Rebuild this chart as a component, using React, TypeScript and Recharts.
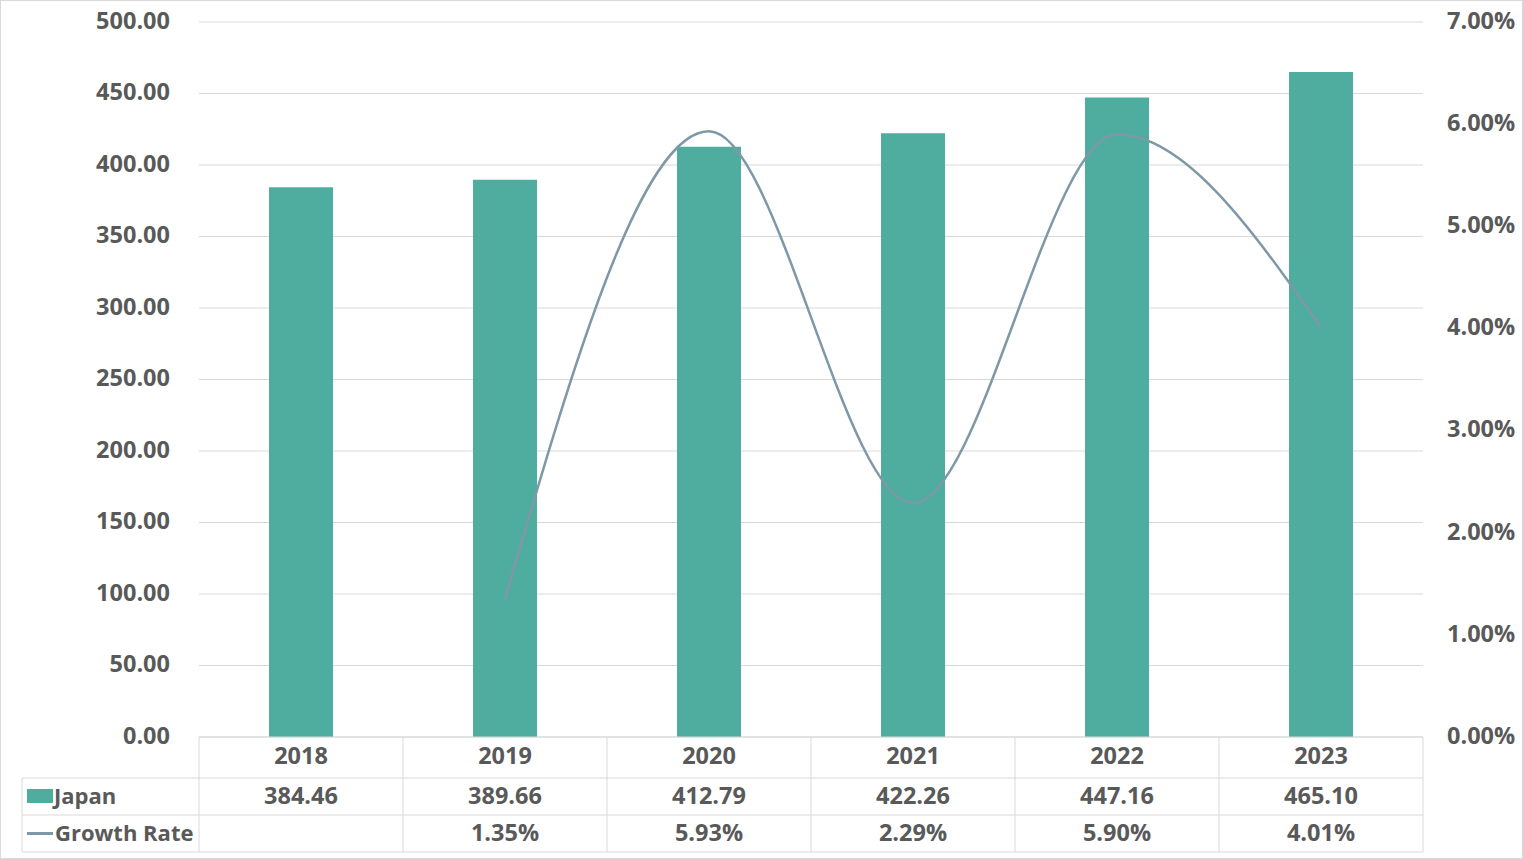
import {
  Bar,
  CartesianGrid,
  ComposedChart,
  Line,
  XAxis,
  YAxis,
} from "recharts";

const years = ["2018", "2019", "2020", "2021", "2022", "2023"];
const japan = [384.46, 389.66, 412.79, 422.26, 447.16, 465.1];
const growth: (number | null)[] = [null, 1.35, 5.93, 2.29, 5.9, 4.01];
const leftTicks = [0, 50, 100, 150, 200, 250, 300, 350, 400, 450, 500];
const rightTicks = [0, 1, 2, 3, 4, 5, 6, 7];

const data = years.map((year, i) => ({
  year,
  japan: japan[i],
  growth: growth[i],
}));

const BAR = "#4FAD9F";
const LINE = "#7F98A8";
const TEXT = "#595959";
const BORDER = "#d9d9d9";
const FONT = "'Open Sans', sans-serif";
const SIZE = 23.5;
const CELL = 204;
const TABLE_LEFT = 22;

function TableTick(props: any) {
  const { x, y, index } = props;
  const half = CELL / 2;
  const r1 = y + 41;
  const r2 = y + 78;
  const r3 = y + 115;
  const text = {
    fill: TEXT,
    fontFamily: FONT,
    fontWeight: 700,
    fontSize: SIZE,
    dominantBaseline: "central" as const,
  };
  const label = { ...text, fontSize: 22 };
  const g = growth[index];
  return (
    <g>
      {index === 0 && (
        <g>
          <line x1={x - half} x2={x - half} y1={y} y2={r3} stroke={BORDER} />
          <line x1={TABLE_LEFT} x2={TABLE_LEFT} y1={r1} y2={r3} stroke={BORDER} />
          {[r1, r2, r3].map((ry) => (
            <line key={ry} x1={TABLE_LEFT} x2={x - half} y1={ry} y2={ry} stroke={BORDER} />
          ))}
          <rect x={27} y={r1 + 11} width={26} height={14} fill={BAR} />
          <text x={54} y={(r1 + r2) / 2 - 2} textAnchor="start" {...label}>
            Japan
          </text>
          <line x1={27} x2={53} y1={(r2 + r3) / 2} y2={(r2 + r3) / 2} stroke={LINE} strokeWidth={3} />
          <text x={55} y={(r2 + r3) / 2 - 2} textAnchor="start" {...label}>
            Growth Rate
          </text>
        </g>
      )}
      <line x1={x + half} x2={x + half} y1={y} y2={r3} stroke={BORDER} />
      {[r1, r2, r3].map((ry) => (
        <line key={ry} x1={x - half} x2={x + half} y1={ry} y2={ry} stroke={BORDER} />
      ))}
      <text x={x} y={y + 18} textAnchor="middle" {...text}>
        {years[index]}
      </text>
      <text x={x} y={(r1 + r2) / 2 - 2} textAnchor="middle" {...text}>
        {japan[index].toFixed(2)}
      </text>
      {g != null && (
        <text x={x} y={(r2 + r3) / 2 - 2} textAnchor="middle" {...text}>
          {g.toFixed(2) + "%"}
        </text>
      )}
    </g>
  );
}

const axisTick = {
  fill: TEXT,
  fontFamily: FONT,
  fontWeight: 700,
  fontSize: SIZE,
  dy: -1.5,
};

export default function App() {
  return (
    <div
      style={{
        position: "absolute",
        left: 0,
        top: 0,
        width: 1523,
        height: 859,
        boxSizing: "border-box",
        border: `1px solid ${BORDER}`,
        background: "#fff",
      }}
    >
      <div style={{ position: "absolute", left: -1, top: -1 }}>
        <ComposedChart
          width={1523}
          height={859}
          data={data}
          margin={{ top: 22, right: 0, bottom: 0, left: 0 }}
        >
          <CartesianGrid vertical={false} stroke={BORDER} yAxisId="left" />
          <XAxis
            dataKey="year"
            height={122}
            tickLine={false}
            tickSize={0}
            tickMargin={0}
            axisLine={{ stroke: BORDER }}
            interval={0}
            tick={<TableTick />}
          />
          <YAxis
            yAxisId="left"
            width={199}
            domain={[0, 500]}
            ticks={leftTicks}
            tickFormatter={(v) => Number(v).toFixed(2)}
            axisLine={false}
            tickLine={false}
            tickSize={0}
            tickMargin={29}
            tick={axisTick}
          />
          <YAxis
            yAxisId="right"
            orientation="right"
            width={100}
            domain={[0, 7]}
            ticks={rightTicks}
            tickFormatter={(v) => Number(v).toFixed(2) + "%"}
            axisLine={false}
            tickLine={false}
            tickSize={0}
            tickMargin={24}
            tick={axisTick}
          />
          <Bar
            yAxisId="left"
            dataKey="japan"
            fill={BAR}
            barSize={64}
            isAnimationActive={false}
          />
          <Line
            yAxisId="right"
            dataKey="growth"
            type="monotone"
            stroke={LINE}
            strokeWidth={2.5}
            dot={false}
            isAnimationActive={false}
          />
        </ComposedChart>
      </div>
    </div>
  );
}
